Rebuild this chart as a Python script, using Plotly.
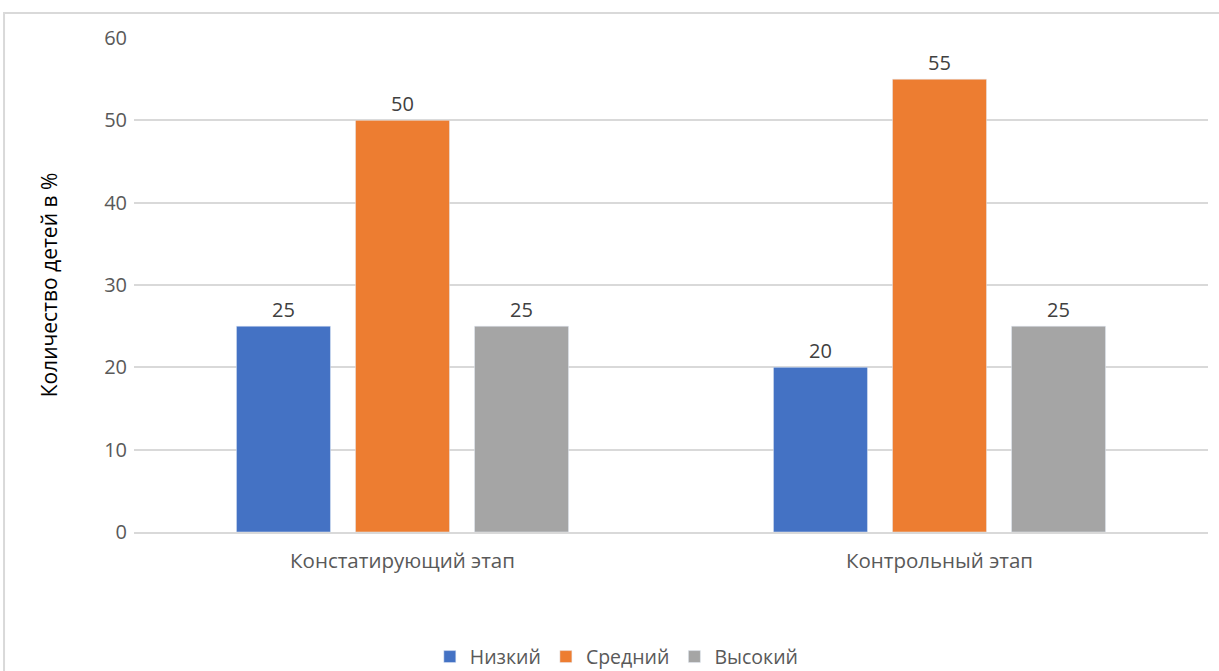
import plotly.graph_objects as go

categories = ["Констатирующий этап", "Контрольный этап"]
series_names = ["Низкий", "Средний", "Высокий"]
low = [25, 20]
mid = [50, 55]
high = [25, 25]
colors = ["#4472C4", "#ED7D31", "#A5A5A5"]

FONT = "Open Sans"
fig = go.Figure()
for name, vals, c in zip(series_names, [low, mid, high], colors):
    fig.add_trace(go.Bar(
        x=categories, y=vals, name=name, marker_color=c,
        text=vals, textposition="outside",
        textfont=dict(family=FONT, size=20, color="#404040"),
        cliponaxis=False,
    ))

fig.update_layout(
    width=1219, height=671,
    margin=dict(l=134, r=11, t=38, b=139),
    paper_bgcolor="white", plot_bgcolor="white",
    barmode="group", bargap=0.335, bargroupgap=0.21,
    font=dict(family=FONT, color="#595959"),
    showlegend=True,
    legend=dict(orientation="h", x=0.506, xanchor="center", xref="container",
                y=0.021, yref="container", yanchor="middle",
                font=dict(family=FONT, size=19.5, color="#595959"),
                traceorder="normal"),
    xaxis=dict(tickfont=dict(family=FONT, size=20.5, color="#595959"),
               showline=True, linecolor="#D9D9D9", linewidth=1.5, ticks="",
               showgrid=False, ticklabelstandoff=10),
    yaxis=dict(range=[0, 60], dtick=10, tickfont=dict(family=FONT, size=20, color="#595959"),
               showgrid=True, gridcolor="#D9D9D9", gridwidth=1.5, zeroline=False,
               ticks="", ticklabelstandoff=6,
               title=dict(text="Количество детей в %", font=dict(family=FONT, size=21, color="#000000"),
                          standoff=40)),
    shapes=[dict(type="rect", xref="paper", yref="paper",
                 x0=-0.121, x1=1.2, y0=1.0506, y1=-0.5,
                 line=dict(color="#D9D9D9", width=2), fillcolor="rgba(0,0,0,0)", layer="below")],
)
fig.write_html("out.html")
